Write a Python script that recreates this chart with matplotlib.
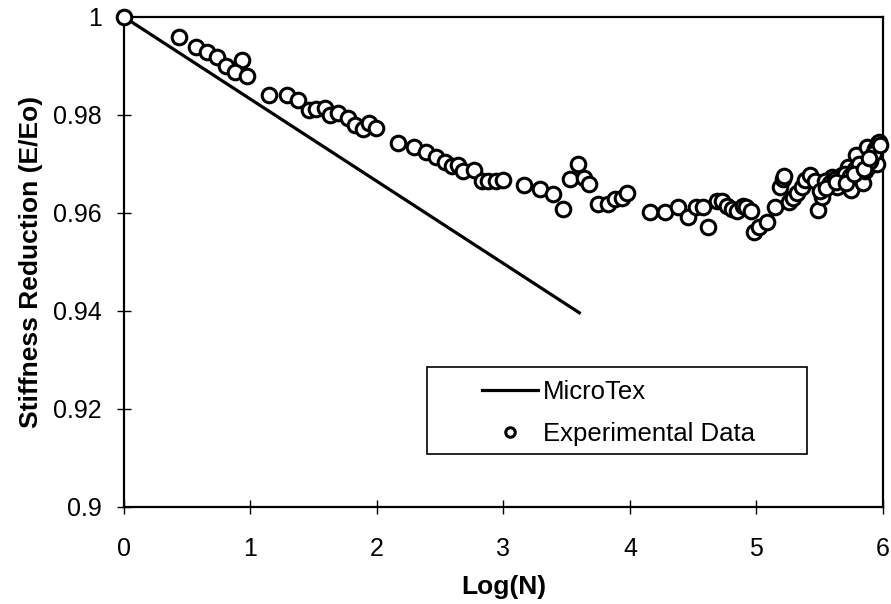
import matplotlib.pyplot as plt
from matplotlib.patches import Rectangle

plt.rcParams['font.family'] = ['Liberation Sans', 'DejaVu Sans']

# MicroTex prediction (straight line in log scale)
micro_x = [0.0, 3.6]
micro_y = [1.0, 0.9396]

exp_x = [0.0, 0.435, 0.57, 0.66, 0.74, 0.81, 0.93, 0.88, 0.97,
         1.15, 1.29, 1.38, 1.46, 1.52, 1.59, 1.63, 1.69, 1.77, 1.83, 1.89, 1.94, 1.99,
         2.17, 2.29, 2.39, 2.47, 2.54, 2.59, 2.64, 2.68, 2.77, 2.83, 2.88, 2.94, 3.0,
         3.16, 3.29, 3.39, 3.47, 3.53, 3.59, 3.64, 3.68, 3.75, 3.83, 3.88, 3.94, 3.98,
         4.16, 4.28, 4.38, 4.46, 4.52, 4.58, 4.62, 4.69, 4.73, 4.77, 4.81, 4.85, 4.89,
         4.92, 4.96, 4.98, 5.02, 5.08, 5.15, 5.19, 5.21, 5.22, 5.26, 5.29, 5.32, 5.36,
         5.38, 5.42, 5.46, 5.49, 5.52, 5.56, 5.60, 5.64, 5.68, 5.72, 5.75, 5.79, 5.82,
         5.84, 5.87, 5.88, 5.91, 5.92, 5.94, 5.95, 5.96, 5.97,
         5.50, 5.54, 5.58, 5.62, 5.66, 5.70, 5.74, 5.78, 5.81, 5.86, 5.90, 5.93, 5.98,
         5.55, 5.63, 5.71, 5.77, 5.85, 5.89]
exp_y = [1.0, 0.9959, 0.9939, 0.9929, 0.9918, 0.990, 0.9912, 0.9888, 0.988,
         0.9841, 0.9841, 0.9831, 0.981, 0.9812, 0.9814, 0.980, 0.9804, 0.9794, 0.978, 0.9771, 0.9784, 0.9773,
         0.9743, 0.9735, 0.9724, 0.9714, 0.9704, 0.9696, 0.9698, 0.9686, 0.9688, 0.9665, 0.9665, 0.9665, 0.9667,
         0.9657, 0.9649, 0.9639, 0.9608, 0.9669, 0.970, 0.9671, 0.9659, 0.9618, 0.9618, 0.9629, 0.9631, 0.9641,
         0.9602, 0.9602, 0.9612, 0.9592, 0.9612, 0.9612, 0.9571, 0.9624, 0.9624, 0.9614, 0.9608, 0.9604, 0.9614,
         0.9612, 0.9604, 0.9561, 0.9571, 0.9582, 0.9612, 0.9653, 0.9669, 0.9676, 0.9622, 0.963, 0.9641, 0.9653,
         0.9667, 0.9678, 0.9665, 0.9606, 0.9633, 0.9657, 0.9673, 0.9653, 0.9678, 0.9694, 0.9647, 0.9718, 0.9673,
         0.9661, 0.9735, 0.9694, 0.9714, 0.972, 0.973, 0.970, 0.9743, 0.9745,
         0.9645, 0.9665, 0.9660, 0.9670, 0.9668, 0.9680, 0.9675, 0.9690, 0.9700, 0.9685, 0.9705, 0.9722, 0.9738,
         0.9650, 0.9662, 0.9660, 0.9680, 0.9690, 0.9712]

fig = plt.figure(figsize=(8.91, 6.04), dpi=100)
ax = fig.add_axes([0.139, 0.161, 0.852, 0.811])

ax.plot(micro_x, micro_y, color='black', lw=2.3, label='MicroTex', zorder=2)
ax.plot(exp_x, exp_y, linestyle='none', marker='o', markersize=10.5,
        markerfacecolor='white', markeredgecolor='black', markeredgewidth=2.2,
        label='Experimental Data', zorder=3, clip_on=False)

ax.set_xlim(0, 6)
ax.set_ylim(0.9, 1.0)
ax.set_xticks([0, 1, 2, 3, 4, 5, 6])
ax.set_yticks([0.9, 0.92, 0.94, 0.96, 0.98, 1.0])
ax.set_yticklabels(['0.9', '0.92', '0.94', '0.96', '0.98', '1'])
ax.tick_params(direction='inout', length=10, width=1, labelsize=18)
ax.tick_params(axis='x', pad=17)
ax.tick_params(axis='y', pad=11)
for s in ax.spines.values():
    s.set_linewidth(1.6)

ax.set_xlabel('Log(N)', fontsize=19, fontweight='bold', labelpad=10)
ax.set_ylabel('Stiffness Reduction (E/Eo)', fontsize=19, fontweight='bold', labelpad=7)

# legend box
ax.add_patch(Rectangle((0.399, 0.108), 0.501, 0.178, transform=ax.transAxes,
                       facecolor='white', edgecolor='black', lw=1.2, zorder=4))
leg = ax.legend(loc='upper left', bbox_to_anchor=(0.4717, 0.258), frameon=False,
                fontsize=18.5, handlelength=2.18, handletextpad=0.2,
                labelspacing=0.68, markerscale=0.65, borderpad=0, borderaxespad=0)
leg.set_zorder(5)

plt.savefig('out.png', dpi=100)
